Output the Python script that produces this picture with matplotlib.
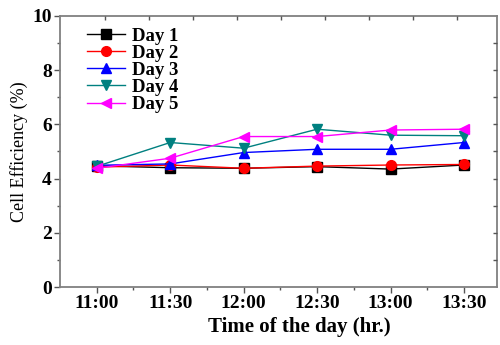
import matplotlib
matplotlib.use("Agg")
import matplotlib.pyplot as plt
import numpy as np

times = ["11:00", "11:30", "12:00", "12:30", "13:00", "13:30"]
day1 = [4.47, 4.40, 4.38, 4.44, 4.35, 4.50]
day2 = [4.42, 4.50, 4.38, 4.46, 4.50, 4.52]
day3 = [4.49, 4.54, 4.96, 5.08, 5.08, 5.33]
day4 = [4.45, 5.33, 5.12, 5.82, 5.60, 5.58]
day5 = [4.38, 4.75, 5.55, 5.55, 5.79, 5.82]

series = [
    ("Day 1", day1, "black", "s"),
    ("Day 2", day2, "red", "o"),
    ("Day 3", day3, "blue", "^"),
    ("Day 4", day4, "#008080", "v"),
    ("Day 5", day5, "magenta", "<"),
]

plt.rcParams["font.family"] = ["Liberation Serif", "DejaVu Serif"]

fig = plt.figure(figsize=(5.0, 3.45), dpi=100)
ax = fig.add_axes([0.12, 0.168, 0.874, 0.786])

x = np.arange(len(times))
for label, vals, color, marker in series:
    ax.plot(x, vals, color=color, marker=marker, markersize=7,
            linewidth=1.0, label=label)

ax.set_xlim(-0.5, 5.45)
ax.set_ylim(0, 10)
ax.set_xticks(x)
ax.set_xticklabels(times, fontweight="bold", fontsize=14)
ax.set_xticks(x[:-1] + 0.5, minor=True)
ax.set_yticks([0, 2, 4, 6, 8, 10])
ax.set_yticklabels(["0", "2", "4", "6", "8", "10"], fontweight="bold", fontsize=14)
ax.set_yticks(np.arange(1, 10, 2), minor=True)
ax.tick_params(which="major", direction="out", length=4, width=1, color="#555555", pad=2)
ax.tick_params(which="minor", direction="out", length=2, width=1, color="#555555")

for s in ax.spines.values():
    s.set_color("#808080")
    s.set_linewidth(1.3)

# top / right ticks, pointing inward
top = ax.twiny()
top.set_xlim(ax.get_xlim())
top.set_xticks(np.arange(0.11, 5.45, 0.6))
top.set_xticklabels([])
top.tick_params(direction="in", length=3, width=1, color="#555555")
right = ax.twinx()
right.set_ylim(ax.get_ylim())
right.set_yticks(np.arange(1, 10, 1))
right.set_yticklabels([])
right.tick_params(direction="in", length=3, width=1, color="#555555")
for a in (top, right):
    for s in a.spines.values():
        s.set_visible(False)

ax.set_xlabel("Time of the day (hr.)", fontweight="bold", fontsize=15, labelpad=3)
ax.xaxis.set_label_coords(0.547, -0.11)
ax.set_ylabel("Cell Efficiency (%)", fontsize=13, labelpad=3)

leg = ax.legend(loc="upper left", bbox_to_anchor=(0.062, 0.957), frameon=False,
                prop={"weight": "bold", "size": 13.5}, handlelength=2.0,
                handletextpad=0.4, labelspacing=0.0, borderaxespad=0,
                borderpad=0)

fig.savefig("out.png", dpi=100)
